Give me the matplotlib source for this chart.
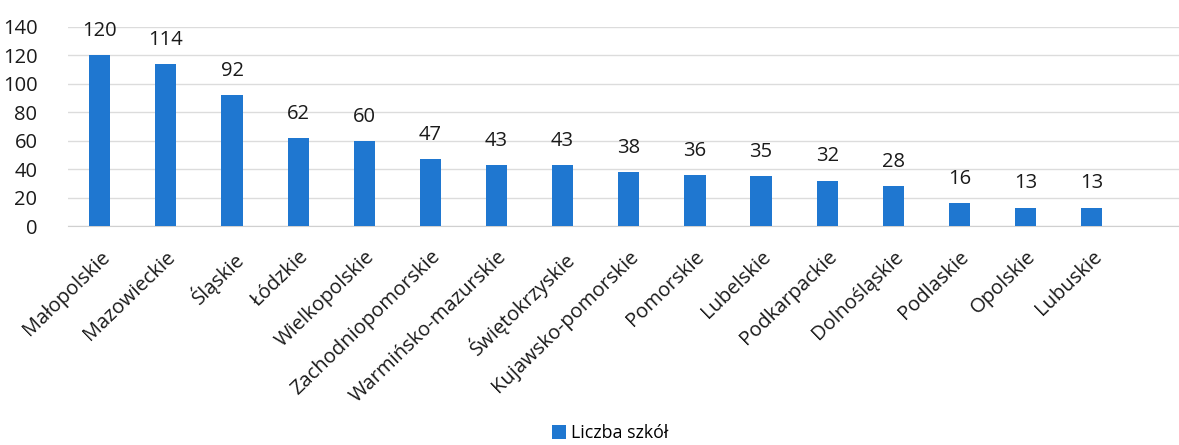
import matplotlib
matplotlib.use("Agg")
import matplotlib.pyplot as plt
import matplotlib.transforms as mtransforms

categories = ["Małopolskie", "Mazowieckie", "Śląskie", "Łódzkie", "Wielkopolskie",
              "Zachodniopomorskie", "Warmińsko-mazurskie", "Świętokrzyskie",
              "Kujawsko-pomorskie", "Pomorskie", "Lubelskie", "Podkarpackie",
              "Dolnośląskie", "Podlaskie", "Opolskie", "Lubuskie"]
values = [120, 114, 92, 62, 60, 47, 43, 43, 38, 36, 35, 32, 28, 16, 13, 13]
series_name = "Liczba szkół"
yticks = [0, 20, 40, 60, 80, 100, 120, 140]

plt.rcParams['font.family'] = ['Open Sans', 'DejaVu Sans']

fig = plt.figure(figsize=(11.79, 4.45), dpi=100)
ax = fig.add_axes([68/1179, 1-226/445, 1-68/1179, (226-27)/445])

x = list(range(len(categories)))
bars = ax.bar(x, values, width=0.32, color="#1f77d0", label=series_name, zorder=3)
for xi, v in zip(x, values):
    ax.text(xi, v + 10, str(v), ha="center", va="bottom", fontsize=14.5, color="#1a1a1a")

ax.set_ylim(0, 140)
ax.set_xlim(-0.48, 16.32)
ax.set_yticks(yticks)
ax.set_xticks(x)
ax.set_xticklabels(categories, rotation=44, ha="right", rotation_mode="anchor", fontsize=14.5, color="#1a1a1a")
offset = mtransforms.ScaledTranslation(-3/100, 0, fig.dpi_scale_trans)
for lbl in ax.get_xticklabels():
    lbl.set_transform(lbl.get_transform() + offset)
ax.tick_params(axis="y", labelsize=14.5, length=0, pad=22, labelcolor="#1a1a1a")
ax.tick_params(axis="x", length=0, pad=15)
ax.grid(axis="y", color="#dcdcdc", linewidth=1, zorder=0)
for s in ["top", "right", "left"]:
    ax.spines[s].set_visible(False)
ax.spines["bottom"].set_color("#d0d0d0")

fig.legend(handles=[bars], labels=[series_name], loc="center", bbox_to_anchor=(610/1179, 1-433/445),
           frameon=False, fontsize=12.8, handlelength=0.8, handleheight=0.8, handletextpad=0.25)

fig.savefig("out.png", dpi=100, facecolor="white")
